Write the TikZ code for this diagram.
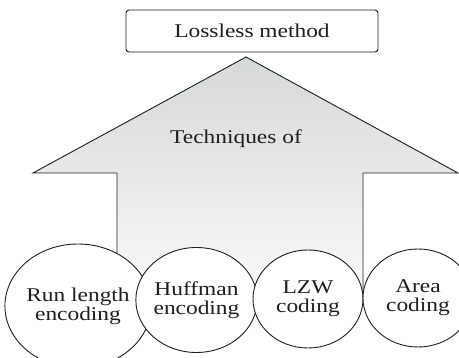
\documentclass[tikz,border=0pt]{standalone}
\usepackage{fontspec}
\setmainfont[FakeStretch=1.2]{Liberation Serif}
\usetikzlibrary{shapes.geometric}
\definecolor{linec}{RGB}{30,30,30}
\definecolor{shtop}{RGB}{214,217,217}
\definecolor{shbot}{RGB}{250,250,250}
\begin{document}
\begin{tikzpicture}[x=1pt,y=-1pt,
  txt/.style={font=\fontsize{19.5}{19}\selectfont, text=linec},
  tech/.style={draw=linec, line width=0.9pt, ellipse, fill=white, inner sep=0pt, align=center, txt},
  topbox/.style={draw=linec, line width=0.9pt, rounded corners=3pt, fill=white, txt}]
\useasboundingbox (0,0) rectangle (459,358);
\clip (0,0) rectangle (459,358);
% arrow
\path[draw=linec, line width=0.9pt, top color=shtop, bottom color=shbot]
  (246,57) -- (458,173) -- (363,173) -- (363,300) -- (117,300) -- (117,173) -- (33,173) -- cycle;
\node[txt] (tech) at (236,139) {Techniques of};
% top box
\node[topbox, minimum width=252pt, minimum height=42pt] (top) at (252,31) {Lossless method};
% circles
\node[tech, minimum width=128pt, minimum height=124pt] (rle) at (78,306) {Run length\\encoding};
\node[tech, minimum width=113pt, minimum height=105pt] (huf) at (196.5,300) {Huffman\\encoding};
\node[tech, minimum width=110pt, minimum height=98pt] (lzw) at (308,299) {LZW\\coding};
\node[tech, minimum width=110pt, minimum height=98pt] (area) at (418,298) {Area\\coding};
\end{tikzpicture}
\end{document}
